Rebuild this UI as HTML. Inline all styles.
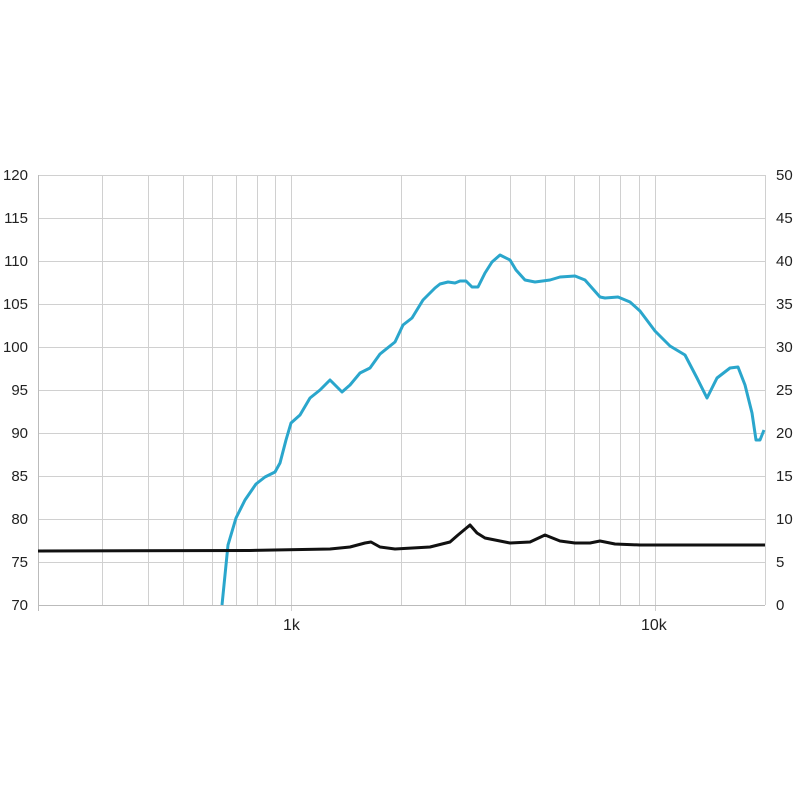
<!DOCTYPE html>
<html><head><style>body{margin:0;background:#fff}svg text{font-family:"Liberation Sans",sans-serif;font-size:15px;fill:#222}</style></head><body>
<svg width="800" height="800" xmlns="http://www.w3.org/2000/svg">
<g stroke="#d0d0d0" stroke-width="1">
<line x1="38" x2="765" y1="175.5" y2="175.5"/><line x1="38" x2="765" y1="218.5" y2="218.5"/><line x1="38" x2="765" y1="261.5" y2="261.5"/><line x1="38" x2="765" y1="304.5" y2="304.5"/><line x1="38" x2="765" y1="347.5" y2="347.5"/><line x1="38" x2="765" y1="390.5" y2="390.5"/><line x1="38" x2="765" y1="433.5" y2="433.5"/><line x1="38" x2="765" y1="476.5" y2="476.5"/><line x1="38" x2="765" y1="519.5" y2="519.5"/><line x1="38" x2="765" y1="562.5" y2="562.5"/>
<line x1="102.5" x2="102.5" y1="175" y2="605"/><line x1="148.5" x2="148.5" y1="175" y2="605"/><line x1="183.5" x2="183.5" y1="175" y2="605"/><line x1="212.5" x2="212.5" y1="175" y2="605"/><line x1="236.5" x2="236.5" y1="175" y2="605"/><line x1="257.5" x2="257.5" y1="175" y2="605"/><line x1="275.5" x2="275.5" y1="175" y2="605"/><line x1="291.5" x2="291.5" y1="175" y2="611"/>
<line x1="401.5" x2="401.5" y1="175" y2="605"/><line x1="465.5" x2="465.5" y1="175" y2="605"/><line x1="510.5" x2="510.5" y1="175" y2="605"/><line x1="545.5" x2="545.5" y1="175" y2="605"/><line x1="574.5" x2="574.5" y1="175" y2="605"/><line x1="599.5" x2="599.5" y1="175" y2="605"/><line x1="620.5" x2="620.5" y1="175" y2="605"/><line x1="639.5" x2="639.5" y1="175" y2="605"/><line x1="655.5" x2="655.5" y1="175" y2="611"/><line x1="765.5" x2="765.5" y1="175" y2="605"/>
</g>
<g stroke="#bbb"><line x1="38.5" x2="38.5" y1="175" y2="611"/><line x1="38" x2="765" y1="605.5" y2="605.5"/></g>
<g text-anchor="end">
<text x="28" y="180">120</text><text x="28" y="223">115</text><text x="28" y="266">110</text><text x="28" y="309">105</text><text x="28" y="352">100</text><text x="28" y="395">95</text><text x="28" y="438">90</text><text x="28" y="481">85</text><text x="28" y="524">80</text><text x="28" y="567">75</text><text x="28" y="610">70</text>
</g>
<g text-anchor="start">
<text x="776" y="180">50</text><text x="776" y="223">45</text><text x="776" y="266">40</text><text x="776" y="309">35</text><text x="776" y="352">30</text><text x="776" y="395">25</text><text x="776" y="438">20</text><text x="776" y="481">15</text><text x="776" y="524">10</text><text x="776" y="567">5</text><text x="776" y="610">0</text>
</g>
<text x="283" y="630" style="font-size:16px">1k</text><text x="641" y="630" style="font-size:16px">10k</text>
<path fill="none" stroke="#2aa6cc" stroke-width="3" stroke-linejoin="round" d="M222,605 L228,545 L236,518 L245,500 L256,484 L265,477 L275,472 L280,463 L286,440 L291,423 L300,415 L310,398 L320,390 L330,380 L342,392 L350,385 L360,373 L370,368 L380,354 L395,342 L403,325 L412,318 L423,300 L435,288 L440,284 L448,282 L455,283 L460,281 L466,281 L472,287 L478,287 L485,273 L492,262 L500,255 L510,260 L516,270 L525,280 L535,282 L550,280 L560,277 L575,276 L585,280 L600,297 L605,298 L618,297 L630,302 L640,311 L655,331 L670,346 L685,355 L697,378 L707,398 L717,378 L730,368 L738,367 L745,385 L752,413 L756,440 L760,440 L764,430"/>
<path fill="none" stroke="#111" stroke-width="3" stroke-linejoin="round" d="M38,551 L250,550.5 L330,549 L350,547 L365,543 L371,542 L380,547 L395,549 L430,547 L450,542 L458,535 L470,525 L477,533 L485,538 L495,540 L510,543 L530,542 L545,535 L560,541 L575,543 L590,543 L600,541 L615,544 L640,545 L765,545"/>
</svg>
</body></html>
